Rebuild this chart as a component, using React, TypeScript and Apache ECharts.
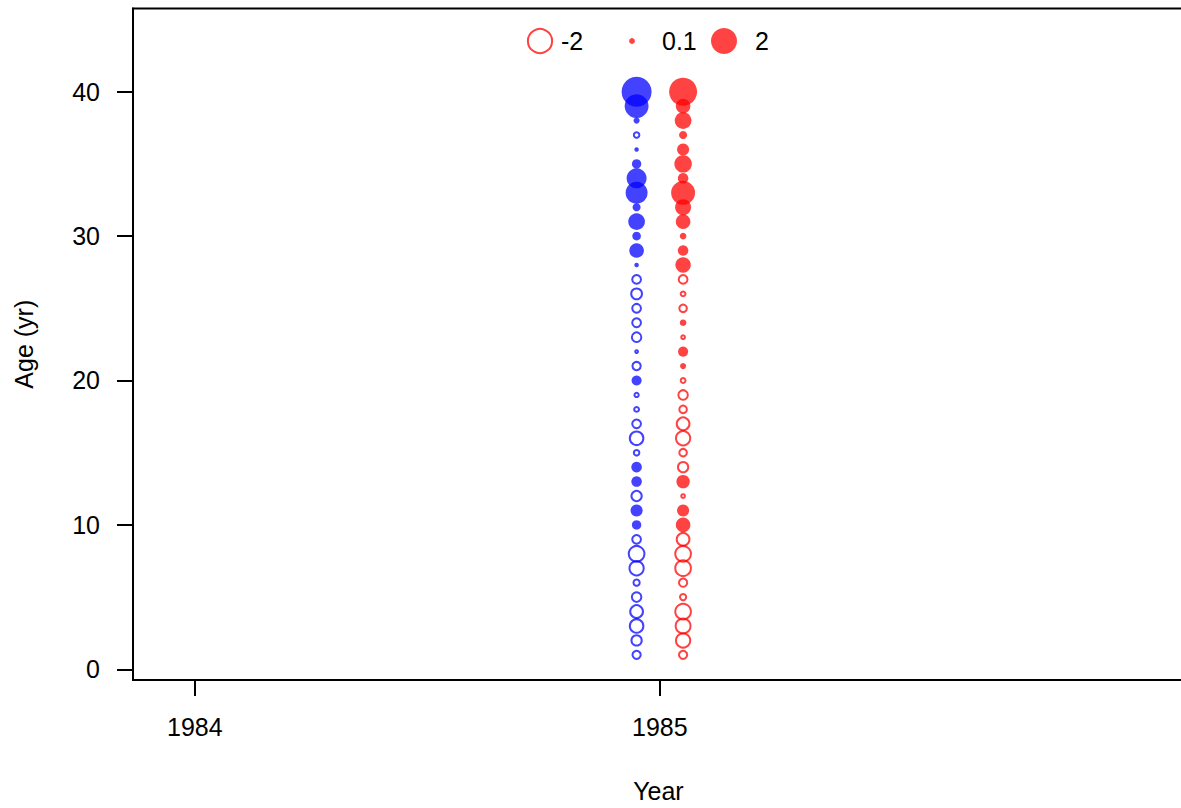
import React, { useEffect, useRef } from "react";
import * as echarts from "echarts";

// Ages 1..40
const ages: number[] = Array.from({ length: 40 }, (_, i) => i + 1);

// Pearson residuals, blue series (left column), ages 1..40
const blueResid: number[] = [
  -0.30, -0.43, -0.70, -0.63, -0.38, -0.19, -0.76, -0.90, -0.33, 0.26,
  0.43, -0.43, 0.33, 0.33, -0.16, -0.70, -0.33, -0.13, -0.11, 0.30,
  -0.30, -0.06, -0.38, -0.33, -0.33, -0.47, -0.33, 0.06, 0.63, 0.22,
  0.82, 0.19, 1.43, 1.18, 0.26, 0.06, -0.16, 0.11, 1.70, 2.66,
];

// Pearson residuals, red series (right column), ages 1..40
const redResid: number[] = [
  -0.30, -0.76, -0.82, -0.90, -0.19, -0.30, -0.90, -0.90, -0.63, 0.63,
  0.43, -0.09, 0.53, -0.43, -0.26, -0.76, -0.63, -0.26, -0.38, -0.13,
  0.11, 0.30, -0.09, 0.13, -0.26, -0.13, -0.33, 0.70, 0.33, 0.13,
  0.63, 0.76, 1.70, 0.33, 0.90, 0.43, 0.19, 0.82, 0.63, 2.32,
];

const blueYear = 1984.95;
const redYear = 1985.05;

const xTicks: number[] = [1984, 1985];
const yTicks: number[] = [0, 10, 20, 30, 40];
const legendValues: number[] = [-2, 0.1, 2];
const legendLabels: string[] = ["-2", "0.1", "2"];

const BLUE = "rgba(0,0,255,0.74)";
const RED = "rgba(255,0,0,0.74)";
const FONT = "'Liberation Sans', Arial, sans-serif";

const radius = (v: number) => 13 * Math.sqrt(Math.abs(v) / 2);

function buildSeries(resid: number[], year: number, color: string) {
  const pos = ages
    .map((a, i) => [year, a, resid[i]])
    .filter((d) => d[2] > 0);
  const neg = ages
    .map((a, i) => [year, a, resid[i]])
    .filter((d) => d[2] <= 0);
  return [
    {
      type: "scatter",
      data: neg,
      symbol: "circle",
      symbolSize: (d: number[]) => Math.max(2 * radius(d[2]) - 1.8, 1),
      itemStyle: { color: "transparent", borderColor: color, borderWidth: 2, opacity: 1 },
      silent: true,
    },
    {
      type: "scatter",
      data: pos,
      symbol: "circle",
      symbolSize: (d: number[]) => 2 * radius(d[2]),
      itemStyle: { color: color, borderWidth: 0, opacity: 1 },
      silent: true,
    },
  ];
}

export default function App() {
  const ref = useRef<HTMLDivElement>(null);
  useEffect(() => {
    if (!ref.current) return;
    const chart = echarts.init(ref.current, null, { renderer: "svg" });

    const legendX = [540, 632, 724];
    const textX = [561, 662, 755];
    const legendY = 41;
    const graphics: any[] = [];
    legendValues.forEach((v, i) => {
      const r = radius(v);
      graphics.push({
        type: "circle",
        shape: { cx: legendX[i], cy: legendY, r: v > 0 ? r : r - 0.9 },
        style:
          v > 0
            ? { fill: RED, stroke: "none" }
            : { fill: "none", stroke: RED, lineWidth: 2 },
        silent: true,
      });
      graphics.push({
        type: "text",
        x: textX[i],
        y: legendY,
        style: {
          text: legendLabels[i],
          font: `25px ${FONT}`,
          fill: "#000",
          verticalAlign: "middle",
          align: "left",
        },
        silent: true,
      });
    });

    const xMin = 1983.867;
    const xMax = 1986.2;
    const pxPerYear = 465;
    const yMin = -0.74;
    const yMax = 45.76;

    chart.setOption({
      animation: false,
      backgroundColor: "#fff",
      grid: {
        left: 133,
        top: 8.5,
        width: (xMax - xMin) * pxPerYear,
        height: 671.5,
        outerBoundsMode: "none",
        containLabel: false,
        show: true,
        borderColor: "#000",
        borderWidth: 2,
        backgroundColor: "transparent",
      },
      xAxis: {
        type: "value",
        min: xMin,
        max: xMax,
        name: "Year",
        nameLocation: "middle",
        nameGap: 98,
        nameTextStyle: {
          fontSize: 25,
          fontFamily: FONT,
          color: "#000",
          padding: [0, 34, 0, 0],
        },
        axisLine: { show: true, onZero: false, lineStyle: { color: "#000", width: 2 } },
        axisTick: {
          show: true,
          length: 16,
          customValues: xTicks,
          lineStyle: { color: "#000", width: 2 },
        },
        axisLabel: {
          customValues: xTicks,
          margin: 34,
          fontSize: 25,
          fontFamily: FONT,
          color: "#000",
          formatter: (v: number) => String(Math.round(v)),
        },
        splitLine: { show: false },
      },
      yAxis: {
        type: "value",
        min: yMin,
        max: yMax,
        name: "Age (yr)",
        nameLocation: "middle",
        nameGap: 97,
        nameTextStyle: { fontSize: 25, fontFamily: FONT, color: "#000" },
        axisLine: { show: true, onZero: false, lineStyle: { color: "#000", width: 2 } },
        axisTick: {
          show: true,
          length: 16,
          customValues: yTicks,
          lineStyle: { color: "#000", width: 2 },
        },
        axisLabel: {
          customValues: yTicks,
          margin: 33,
          fontSize: 25,
          fontFamily: FONT,
          color: "#000",
          formatter: (v: number) => String(Math.round(v)),
        },
        splitLine: { show: false },
      },
      series: [
        ...buildSeries(blueResid, blueYear, BLUE),
        ...buildSeries(redResid, redYear, RED),
      ],
      graphic: graphics,
    });

    return () => chart.dispose();
  }, []);

  return (
    <div
      ref={ref}
      style={{ position: "fixed", left: 0, top: 0, width: 1181, height: 808 }}
    />
  );
}
